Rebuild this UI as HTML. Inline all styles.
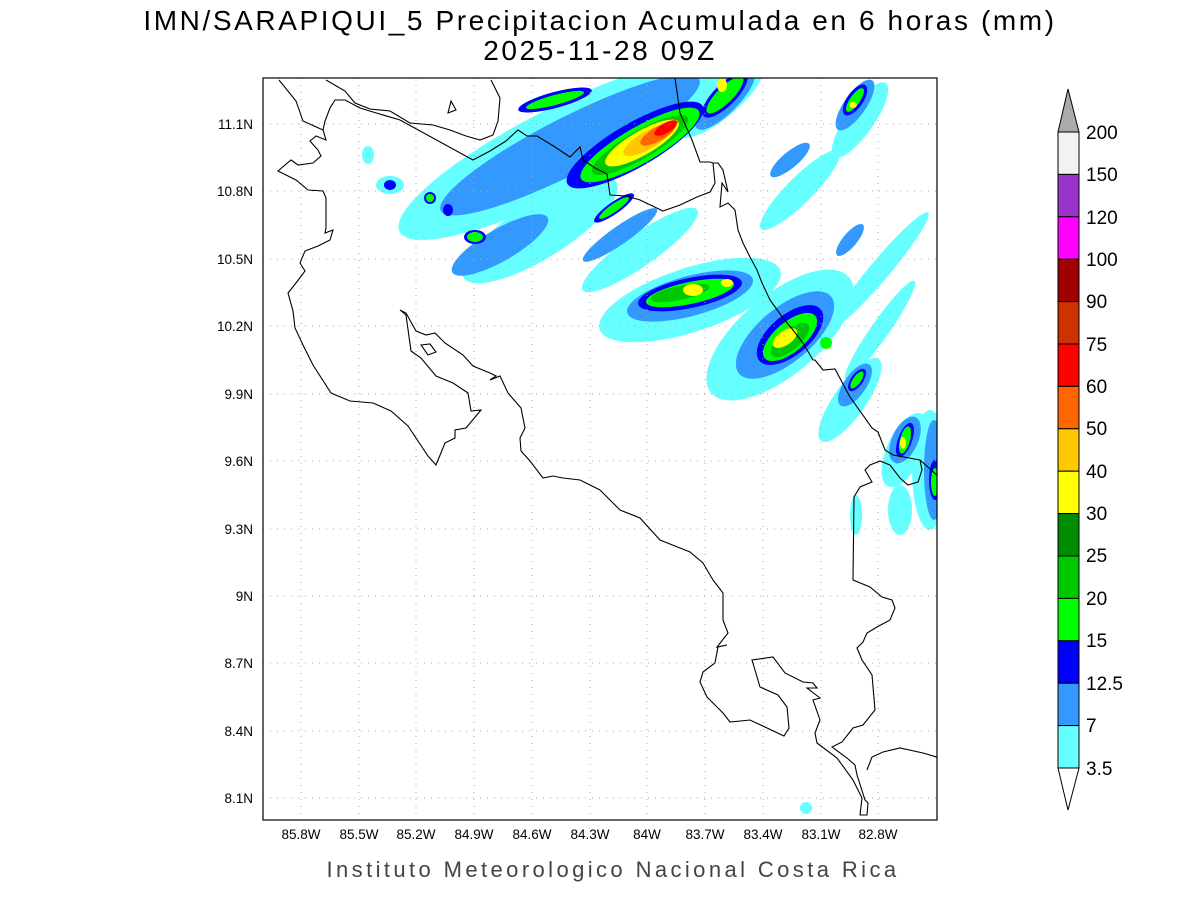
<!DOCTYPE html>
<html><head><meta charset="utf-8"><style>
html,body{margin:0;padding:0;background:#fff;}
svg{display:block;}
text{font-family:"Liberation Sans",sans-serif;fill:#000;}
</style></head><body>
<svg width="1200" height="900" viewBox="0 0 1200 900" xmlns="http://www.w3.org/2000/svg">
<rect width="1200" height="900" fill="#fff"/>
<text x="600" y="30" font-size="28" text-anchor="middle" letter-spacing="2.6">IMN/SARAPIQUI_5 Precipitacion Acumulada en 6 horas (mm)</text>
<text x="600" y="60" font-size="28" text-anchor="middle" letter-spacing="2.6">2025-11-28 09Z</text>
<defs><clipPath id="c"><rect x="263" y="78" width="674" height="742"/></clipPath></defs>
<g clip-path="url(#c)">
<g fill="#66FFFF">
<ellipse cx="560" cy="150" rx="180" ry="42" transform="rotate(-27 560 150)"/>
<ellipse cx="540" cy="230" rx="90" ry="28" transform="rotate(-32 540 230)"/>
<ellipse cx="640" cy="250" rx="70" ry="16" transform="rotate(-35 640 250)"/>
<ellipse cx="690" cy="300" rx="95" ry="32" transform="rotate(-18 690 300)"/>
<ellipse cx="780" cy="335" rx="90" ry="40" transform="rotate(-40 780 335)"/>
<ellipse cx="800" cy="190" rx="55" ry="13" transform="rotate(-45 800 190)"/>
<ellipse cx="860" cy="120" rx="45" ry="14" transform="rotate(-55 860 120)"/>
<ellipse cx="880" cy="270" rx="75" ry="10" transform="rotate(-50 880 270)"/>
<ellipse cx="850" cy="400" rx="50" ry="16" transform="rotate(-55 850 400)"/>
<ellipse cx="905" cy="450" rx="40" ry="18" transform="rotate(-65 905 450)"/>
<ellipse cx="930" cy="470" rx="18" ry="60"/>
<ellipse cx="900" cy="510" rx="12" ry="25"/>
<ellipse cx="856" cy="515" rx="6" ry="20"/>
<ellipse cx="390" cy="185" rx="14" ry="9"/>
<ellipse cx="368" cy="155" rx="6" ry="9"/>
<ellipse cx="720" cy="100" rx="55" ry="18" transform="rotate(-40 720 100)"/>
<ellipse cx="880" cy="330" rx="60" ry="9" transform="rotate(-55 880 330)"/>
<ellipse cx="806" cy="808" rx="6" ry="6"/>
</g>
<g fill="#3399FF">
<ellipse cx="570" cy="145" rx="145" ry="28" transform="rotate(-27 570 145)"/>
<ellipse cx="500" cy="245" rx="55" ry="16" transform="rotate(-30 500 245)"/>
<ellipse cx="620" cy="235" rx="45" ry="9" transform="rotate(-35 620 235)"/>
<ellipse cx="690" cy="296" rx="65" ry="20" transform="rotate(-15 690 296)"/>
<ellipse cx="785" cy="335" rx="60" ry="27" transform="rotate(-40 785 335)"/>
<ellipse cx="790" cy="160" rx="25" ry="8" transform="rotate(-40 790 160)"/>
<ellipse cx="855" cy="105" rx="30" ry="11" transform="rotate(-55 855 105)"/>
<ellipse cx="855" cy="385" rx="25" ry="11" transform="rotate(-55 855 385)"/>
<ellipse cx="905" cy="440" rx="25" ry="13" transform="rotate(-65 905 440)"/>
<ellipse cx="934" cy="470" rx="10" ry="50"/>
<ellipse cx="850" cy="240" rx="20" ry="7" transform="rotate(-50 850 240)"/>
<ellipse cx="725" cy="100" rx="40" ry="13" transform="rotate(-45 725 100)"/>
</g>
<g fill="#0000FF">
<ellipse cx="635" cy="145" rx="78" ry="22" transform="rotate(-30 635 145)"/>
<ellipse cx="555" cy="100" rx="38" ry="8" transform="rotate(-15 555 100)"/>
<ellipse cx="475" cy="237" rx="11" ry="7"/>
<ellipse cx="690" cy="293" rx="53" ry="15" transform="rotate(-12 690 293)"/>
<ellipse cx="790" cy="335" rx="40" ry="20" transform="rotate(-40 790 335)"/>
<ellipse cx="855" cy="100" rx="18" ry="8" transform="rotate(-55 855 100)"/>
<ellipse cx="857" cy="380" rx="13" ry="6" transform="rotate(-55 857 380)"/>
<ellipse cx="905" cy="440" rx="18" ry="7" transform="rotate(-70 905 440)"/>
<ellipse cx="935" cy="480" rx="6" ry="20"/>
<ellipse cx="725" cy="95" rx="30" ry="11" transform="rotate(-45 725 95)"/>
<ellipse cx="390" cy="185" rx="6" ry="5"/>
<ellipse cx="430" cy="198" rx="6" ry="6"/>
<ellipse cx="448" cy="210" rx="5" ry="6"/>
<ellipse cx="614" cy="208" rx="24" ry="6" transform="rotate(-35 614 208)"/>
</g>
<g fill="#00FF00">
<ellipse cx="640" cy="145" rx="68" ry="18" transform="rotate(-30 640 145)"/>
<ellipse cx="555" cy="100" rx="30" ry="5" transform="rotate(-15 555 100)"/>
<ellipse cx="475" cy="237" rx="8" ry="5"/>
<ellipse cx="690" cy="293" rx="45" ry="11" transform="rotate(-12 690 293)"/>
<ellipse cx="790" cy="337" rx="33" ry="15" transform="rotate(-40 790 337)"/>
<ellipse cx="855" cy="100" rx="14" ry="5" transform="rotate(-55 855 100)"/>
<ellipse cx="857" cy="380" rx="10" ry="4" transform="rotate(-55 857 380)"/>
<ellipse cx="905" cy="440" rx="14" ry="5" transform="rotate(-75 905 440)"/>
<ellipse cx="935" cy="482" rx="4" ry="14"/>
<ellipse cx="725" cy="95" rx="25" ry="8" transform="rotate(-45 725 95)"/>
<ellipse cx="614" cy="208" rx="18" ry="4" transform="rotate(-35 614 208)"/>
<ellipse cx="826" cy="343" rx="6" ry="6"/>
<ellipse cx="430" cy="198" rx="4" ry="4"/>
</g>
<g fill="#00C800">
<ellipse cx="640" cy="145" rx="55" ry="14" transform="rotate(-30 640 145)"/>
<ellipse cx="680" cy="293" rx="30" ry="7" transform="rotate(-12 680 293)"/>
<ellipse cx="790" cy="340" rx="24" ry="10" transform="rotate(-40 790 340)"/>
</g>
<g fill="#FFFF00">
<ellipse cx="642" cy="143" rx="42" ry="12" transform="rotate(-30 642 143)"/>
<ellipse cx="693" cy="290" rx="10" ry="6"/>
<ellipse cx="727" cy="283" rx="6" ry="4"/>
<ellipse cx="785" cy="338" rx="14" ry="7" transform="rotate(-35 785 338)"/>
<ellipse cx="722" cy="85" rx="5" ry="7"/>
<ellipse cx="853" cy="105" rx="4" ry="3"/>
<ellipse cx="903" cy="443" rx="3" ry="6"/>
</g>
<g fill="#FFC800"><ellipse cx="648" cy="140" rx="28" ry="9" transform="rotate(-30 648 140)"/></g>
<g fill="#FF6600"><ellipse cx="658" cy="134" rx="20" ry="7" transform="rotate(-30 658 134)"/></g>
<g fill="#FF0000"><ellipse cx="666" cy="128" rx="13" ry="5" transform="rotate(-30 666 128)"/></g>
</g>
<g stroke="#aaa" stroke-width="1" stroke-dasharray="1,6">
<line x1="263" y1="124" x2="937" y2="124"/><line x1="263" y1="191" x2="937" y2="191"/>
<line x1="263" y1="259" x2="937" y2="259"/><line x1="263" y1="326" x2="937" y2="326"/>
<line x1="263" y1="394" x2="937" y2="394"/><line x1="263" y1="461" x2="937" y2="461"/>
<line x1="263" y1="529" x2="937" y2="529"/><line x1="263" y1="596" x2="937" y2="596"/>
<line x1="263" y1="663" x2="937" y2="663"/><line x1="263" y1="731" x2="937" y2="731"/>
<line x1="263" y1="798" x2="937" y2="798"/>
<line x1="301" y1="78" x2="301" y2="820"/><line x1="359" y1="78" x2="359" y2="820"/>
<line x1="416" y1="78" x2="416" y2="820"/><line x1="474" y1="78" x2="474" y2="820"/>
<line x1="532" y1="78" x2="532" y2="820"/><line x1="590" y1="78" x2="590" y2="820"/>
<line x1="647" y1="78" x2="647" y2="820"/><line x1="705" y1="78" x2="705" y2="820"/>
<line x1="763" y1="78" x2="763" y2="820"/><line x1="821" y1="78" x2="821" y2="820"/>
<line x1="878" y1="78" x2="878" y2="820"/>
</g>
<g fill="none" stroke="#000" stroke-width="1.1" clip-path="url(#c)">
<polyline points="279,80 296,101 303,121 323,130 326,140 316,136 310,141 318,150 321,156 313,163 298,165 291,160 278,171 296,180 308,190 323,191 326,198 326,228 325,233 333,230 330,240 318,246 305,251 300,263 305,271 296,283 288,293 293,311 295,328 303,345 313,365 331,393 350,401 373,403 391,411 408,426 428,456 436,465 445,443 455,438 455,430 466,428 481,410 471,411 468,393 453,383 436,376 421,358 411,351 406,315 400,310 406,313 416,331 426,335 435,333 445,343 463,355 473,366 490,373 496,376 490,380 500,376 508,393 521,408 525,428 520,438 521,451 530,461 543,478 553,476 563,478 580,480 600,490 620,510 640,518 660,540 680,548 690,552 703,563 713,580 723,593 723,620 728,633 717,647 727,645 718,647 715,663 703,672 700,682 707,697 723,713 730,722 750,720 784,736 789,728 787,707 778,695 760,687 752,660 773,657 785,673 803,682 813,683 817,688 807,688 820,698 813,700 820,720 815,733 817,743 837,758 853,780 862,798 860,815 867,815 868,803 865,800 857,775 855,765 847,758 832,747 842,742 853,728 863,725 875,710 872,675 862,660 857,648 863,642 867,633 877,627 890,620 895,608 892,600 882,597 870,587 853,580 854,497 860,487 872,482 865,470 870,465 880,461 890,465 900,478 908,485 918,482 922,470 920,460"/>
<polyline points="867,770 872,757 883,752 900,748 923,753 940,758"/>
<polygon points="421,345 430,344 436,352 428,355"/>
<polygon points="448,113 451,101 456,110"/>
<polyline points="326,80 345,91 355,103 370,109 390,111 410,123 433,125 450,130 466,136 480,140 493,135 498,121 500,98 491,80"/>
<polyline points="323,130 325,121 330,108 335,100 345,100 360,108 373,112 400,120 473,160 490,151 506,141 518,130 527,136 537,136 555,147 570,157 580,147 583,160 595,168 607,174 610,195 627,196 640,200 663,211 680,205 697,197 710,192 715,183 713,163 718,163 723,170 728,192 722,183 720,207 728,203 735,210 738,230 743,243 750,257 757,270 762,283 770,300 783,318 793,330 803,343 813,360 815,360 823,370 835,369 850,397 872,428 878,432 885,450 893,455 920,460 940,478"/>
<polyline points="675,78 680,113 692,140 700,162 710,162 713,163"/>
</g>
<rect x="263" y="78" width="674" height="742" fill="none" stroke="#000" stroke-width="1.2"/>
<g font-size="13.5" text-anchor="end">
<text x="253" y="129">11.1N</text><text x="253" y="196">10.8N</text><text x="253" y="264">10.5N</text>
<text x="253" y="331">10.2N</text><text x="253" y="399">9.9N</text><text x="253" y="466">9.6N</text>
<text x="253" y="534">9.3N</text><text x="253" y="601">9N</text><text x="253" y="668">8.7N</text>
<text x="253" y="736">8.4N</text><text x="253" y="803">8.1N</text>
</g>
<g font-size="13.5" text-anchor="middle">
<text x="301" y="839">85.8W</text><text x="359" y="839">85.5W</text><text x="416" y="839">85.2W</text>
<text x="474" y="839">84.9W</text><text x="532" y="839">84.6W</text><text x="590" y="839">84.3W</text>
<text x="647" y="839">84W</text><text x="705" y="839">83.7W</text><text x="763" y="839">83.4W</text>
<text x="821" y="839">83.1W</text><text x="878" y="839">82.8W</text>
</g>
<text x="613" y="877" font-size="22" text-anchor="middle" letter-spacing="3.4" style="fill:#444">Instituto Meteorologico Nacional Costa Rica</text>
<g stroke="#000" stroke-width="1">
<polygon points="1068,89 1058,132 1079,132" fill="#AAAAAA"/>
<rect x="1058" y="132" width="21" height="42.4" fill="#F2F2F2"/>
<rect x="1058" y="174.4" width="21" height="42.4" fill="#9933CC"/>
<rect x="1058" y="216.8" width="21" height="42.4" fill="#FF00FF"/>
<rect x="1058" y="259.2" width="21" height="42.4" fill="#A00000"/>
<rect x="1058" y="301.6" width="21" height="42.4" fill="#CC3300"/>
<rect x="1058" y="344" width="21" height="42.4" fill="#FF0000"/>
<rect x="1058" y="386.4" width="21" height="42.4" fill="#FF6600"/>
<rect x="1058" y="428.8" width="21" height="42.4" fill="#FFC800"/>
<rect x="1058" y="471.2" width="21" height="42.4" fill="#FFFF00"/>
<rect x="1058" y="513.6" width="21" height="42.4" fill="#008C00"/>
<rect x="1058" y="556" width="21" height="42.4" fill="#00C800"/>
<rect x="1058" y="598.4" width="21" height="42.4" fill="#00FF00"/>
<rect x="1058" y="640.8" width="21" height="42.4" fill="#0000FF"/>
<rect x="1058" y="683.2" width="21" height="42.4" fill="#3399FF"/>
<rect x="1058" y="725.6" width="21" height="42.4" fill="#66FFFF"/>
<polygon points="1058,768 1079,768 1068,810" fill="#fff"/>
</g>
<g font-size="19">
<text x="1086" y="139">200</text><text x="1086" y="181">150</text><text x="1086" y="224">120</text>
<text x="1086" y="266">100</text><text x="1086" y="308">90</text><text x="1086" y="351">75</text>
<text x="1086" y="393">60</text><text x="1086" y="435">50</text><text x="1086" y="478">40</text>
<text x="1086" y="520">30</text><text x="1086" y="562">25</text><text x="1086" y="605">20</text>
<text x="1086" y="647">15</text><text x="1086" y="690">12.5</text><text x="1086" y="732">7</text>
<text x="1086" y="775">3.5</text>
</g>
</svg>
</body></html>
